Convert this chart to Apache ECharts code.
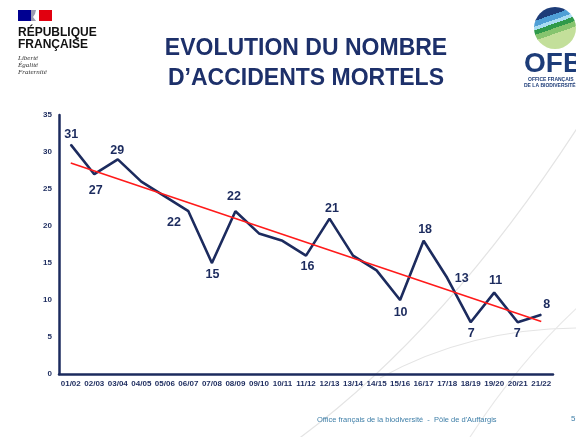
<!DOCTYPE html>
<html lang="fr">
<head>
    <meta charset="UTF-8">
    <title>Evolution du nombre d'accidents mortels</title>
    <script type="text/javascript" src="https://cdn.jsdelivr.net/npm/echarts@6/dist/echarts.min.js"></script>
    <style>
        html, body { margin: 0; padding: 0; background: #fff; }
        #chart-container { width: 576px; height: 437px; }
    </style>
</head>
<body>
    <div id="chart-container"></div>

    <script>
        // saisons
        const seasons = ['01/02', '02/03', '03/04', '04/05', '05/06', '06/07', '07/08', '08/09', '09/10', '10/11',
            '11/12', '12/13', '13/14', '14/15', '15/16', '16/17', '17/18', '18/19', '19/20', '20/21', '21/22'];
        // nombre d'accidents mortels
        const accidents = [31, 27, 29, 26, 24, 22, 15, 22, 19, 18, 16, 21, 16, 14, 10, 18, 13, 7, 11, 7, 8];
        // droite de tendance (debut / fin)
        const trendStart = 28.5;
        const trendEnd = 7.1;
        const yTicks = [0, 5, 10, 15, 20, 25, 30, 35];

        const navy = '#1c2b5e';

        // placement des etiquettes (index -> decalage par rapport au point)
        const labelOffsets = {
            0: [1, -10], 1: [2, 17], 2: [0, -8], 5: [-14, 12], 6: [1, 12], 7: [-1, -14],
            10: [2, 11], 11: [3, -10], 14: [1, 13], 15: [2, -11], 16: [15, 1],
            17: [1, 12], 18: [2, -12], 19: [0, 12], 20: [6, -10]
        };

        const accidentData = accidents.map((v, i) => {
            const off = labelOffsets[i];
            return {
                value: v,
                label: off
                    ? { show: true, position: [off[0], off[1]], align: 'center', verticalAlign: 'middle' }
                    : { show: false }
            };
        });

        const trendData = seasons.map((s, i) => i === 0 ? trendStart : (i === seasons.length - 1 ? trendEnd : null));

        const myChart = echarts.init(document.getElementById('chart-container'));

        const option = {
            backgroundColor: '#ffffff',
            animation: false,
            grid: { left: 59, right: 23, top: 115, bottom: 63 },
            xAxis: {
                type: 'category',
                data: seasons,
                boundaryGap: true,
                axisLine: { show: true, lineStyle: { color: navy, width: 2.5 } },
                axisTick: { show: false },
                axisLabel: {
                    interval: 0, margin: 6, color: navy,
                    fontFamily: 'Liberation Sans', fontWeight: 'bold', fontSize: 8
                },
                splitLine: { show: false }
            },
            yAxis: {
                type: 'value',
                min: yTicks[0],
                max: yTicks[yTicks.length - 1],
                interval: 5,
                axisLine: { show: true, lineStyle: { color: navy, width: 2.5 } },
                axisTick: { show: false },
                axisLabel: {
                    margin: 7, color: navy,
                    fontFamily: 'Liberation Sans', fontWeight: 'bold', fontSize: 8
                },
                splitLine: { show: false }
            },
            series: [
                {
                    name: 'Tendance',
                    type: 'line',
                    data: trendData,
                    connectNulls: true,
                    showSymbol: false,
                    symbol: 'none',
                    z: 3,
                    lineStyle: { color: '#ff1a1a', width: 1.6 }
                },
                {
                    name: 'Accidents mortels',
                    type: 'line',
                    data: accidentData,
                    symbol: 'circle',
                    symbolSize: 1,
                    showSymbol: true,
                    showAllSymbol: true,
                    z: 2,
                    itemStyle: { color: navy },
                    lineStyle: { color: navy, width: 2.6 },
                    label: {
                        color: navy, fontFamily: 'Liberation Sans', fontWeight: 'bold', fontSize: 12.5
                    },
                    labelLayout: { hideOverlap: false }
                }
            ],
            graphic: [
                // arcs decoratifs en fond
                { type: 'bezierCurve', z: -10, shape: { x1: 290, y1: 445, x2: 590, y2: 108, cpx1: 450, cpy1: 330 },
                  style: { stroke: '#e4e4e4', lineWidth: 1.2, fill: null } },
                { type: 'bezierCurve', z: -10, shape: { x1: 380, y1: 378, x2: 580, y2: 328, cpx1: 470, cpy1: 328 },
                  style: { stroke: '#e4e4e4', lineWidth: 1.2, fill: null } },
                { type: 'bezierCurve', z: -10, shape: { x1: 580, y1: 305, x2: 470, y2: 437, cpx1: 520, cpy1: 360 },
                  style: { stroke: '#e8e8e8', lineWidth: 1.2, fill: null } },

                // logo Republique francaise
                { type: 'rect', shape: { x: 18, y: 10, width: 13, height: 11 }, style: { fill: '#000091' } },
                { type: 'rect', shape: { x: 39, y: 10, width: 13, height: 11 }, style: { fill: '#e1000f' } },
                { type: 'polygon', shape: { points: [[31, 10], [36, 10], [35, 14], [33, 17], [36, 21], [31, 21]] },
                  style: { fill: '#9a9ab0' } },
                { type: 'text', left: 18, top: 27, style: { text: 'RÉPUBLIQUE', fill: '#111', font: 'bold 12px "Liberation Sans"' } },
                { type: 'text', left: 18, top: 39, style: { text: 'FRANÇAISE', fill: '#111', font: 'bold 12px "Liberation Sans"' } },
                { type: 'text', left: 18, top: 55, style: { text: 'Liberté', fill: '#333', font: 'italic 7px "Liberation Serif"' } },
                { type: 'text', left: 18, top: 62, style: { text: 'Égalité', fill: '#333', font: 'italic 7px "Liberation Serif"' } },
                { type: 'text', left: 18, top: 69, style: { text: 'Fraternité', fill: '#333', font: 'italic 7px "Liberation Serif"' } },

                // titre
                { type: 'text', x: 306, y: 34, style: {
                    text: 'EVOLUTION DU NOMBRE\nD’ACCIDENTS MORTELS', fill: '#1d306a', align: 'center',
                    font: 'bold 23px "Liberation Sans"', lineHeight: 30 } },

                // logo OFB
                { type: 'circle', shape: { cx: 555, cy: 28, r: 21 }, style: {
                    fill: new echarts.graphic.LinearGradient(0, 0, 0.35, 1, [
                        { offset: 0, color: '#1d3c78' }, { offset: 0.3, color: '#1d3c78' },
                        { offset: 0.3, color: '#4f9fd6' }, { offset: 0.42, color: '#4f9fd6' },
                        { offset: 0.42, color: '#a9dcf2' }, { offset: 0.5, color: '#a9dcf2' },
                        { offset: 0.5, color: '#2f9a4a' }, { offset: 0.6, color: '#2f9a4a' },
                        { offset: 0.6, color: '#86c46e' }, { offset: 0.72, color: '#86c46e' },
                        { offset: 0.72, color: '#c3df9a' }, { offset: 1, color: '#c3df9a' }
                    ]) } },
                { type: 'text', left: 524, top: 50, style: { text: 'OFB', fill: '#1d3c78', font: '900 28px "Liberation Sans"' } },
                { type: 'text', left: 528, top: 77, style: { text: 'OFFICE FRANÇAIS', fill: '#1d3c78', font: 'bold 5px "Liberation Sans"' } },
                { type: 'text', left: 524, top: 83, style: { text: 'DE LA BIODIVERSITÉ', fill: '#1d3c78', font: 'bold 5px "Liberation Sans"' } },

                // pied de page
                { type: 'text', left: 317, top: 416, style: {
                    text: 'Office français de la biodiversité  -  Pôle de d\'Auffargis', fill: '#3f7fa8',
                    font: '7.5px "Liberation Sans"' } },
                { type: 'text', left: 571, top: 415, style: { text: '5', fill: '#3f7fa8', font: '8px "Liberation Sans"' } }
            ]
        };

        myChart.setOption(option);
    </script>
</body>
</html>
